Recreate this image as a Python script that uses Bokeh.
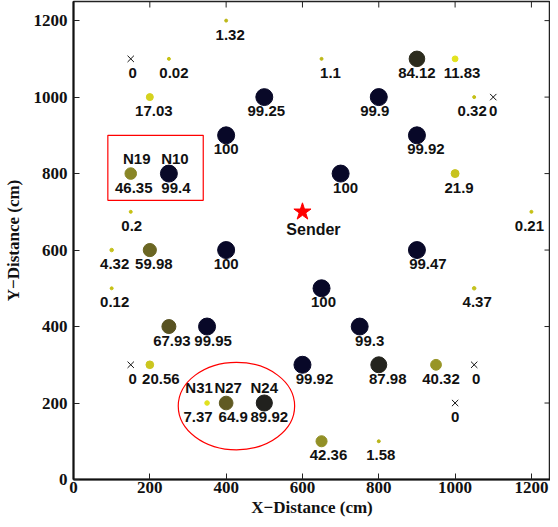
import numpy as np
from bokeh.plotting import figure
from bokeh.models import ColumnDataSource, Range1d, FixedTicker
from bokeh.core.properties import value
from bokeh.embed import file_html
from bokeh.resources import INLINE

# ---- data ----
node_x = [400, 150, 250, 650, 900, 1000, 200, 500, 800, 1050, 1100,
          400, 900, 150, 250, 700, 1000, 150, 1200, 100, 200, 400, 900,
          100, 650, 1050, 250, 350, 750, 150, 200, 600, 800, 950, 1050,
          350, 400, 500, 1000, 650, 800]
node_y = [1200, 1100, 1100, 1100, 1100, 1100, 1000, 1000, 1000, 1000, 1000,
          900, 900, 800, 800, 800, 800, 700, 700, 600, 600, 600, 600,
          500, 500, 500, 400, 400, 400, 300, 300, 300, 300, 300, 300,
          200, 200, 200, 200, 100, 100]
node_value = [1.32, 0, 0.02, 1.1, 84.12, 11.83, 17.03, 99.25, 99.9, 0.32, 0,
              100, 99.92, 46.35, 99.4, 100, 21.9, 0.2, 0.21, 4.32, 59.98, 100, 99.47,
              0.12, 100, 4.37, 67.93, 99.95, 99.3, 0, 20.56, 99.92, 87.98, 40.32, 0,
              7.37, 64.9, 89.92, 0, 42.36, 1.58]

named_x = [150, 250, 350, 400, 500]
named_y = [800, 800, 200, 200, 200]
named_label = ["N19", "N10", "N31", "N27", "N24"]

sender_x = [600]
sender_y = [700]
sender_label = ["Sender"]

box_left, box_right, box_bottom, box_top = [90], [340], [730], [900]
ell_x, ell_y, ell_w, ell_h = [427], [192], [305], [229]

x_ticks = [0, 200, 400, 600, 800, 1000, 1200]
y_ticks = [0, 200, 400, 600, 800, 1000, 1200]
axis_max = 1250

# ---- styling: horizontal label nudges in screen pixels ----
label_dx = [4, 2, 5, 9, 0, 7, 4, 2, -4, -2, 0,
            0, 9, 3, 7, 5, 4, 1, -2, 3, 4, 0, 11,
            3, 2, 3, 3, 6, 10, 2, 11, 12, 9, 5, 2,
            -9, 7, 5, 0, 7, 2]
named_dx = [6, 6, -8, 2, 0]

stop_v = [0, 3, 6, 12, 20, 45, 65, 85, 92, 98, 100]
stop_rgb = np.array([(200, 195, 20), (175, 170, 30), (225, 225, 30), (228, 228, 30),
                     (205, 200, 30), (140, 138, 40), (96, 90, 34), (42, 42, 30),
                     (30, 30, 30), (12, 12, 40), (8, 8, 40)], dtype=float)


def color_for(v):
    r = np.interp(v, stop_v, stop_rgb[:, 0])
    g = np.interp(v, stop_v, stop_rgb[:, 1])
    b = np.interp(v, stop_v, stop_rgb[:, 2])
    return "#%02x%02x%02x" % (int(r), int(g), int(b))


vals = np.array(node_value, dtype=float)
xs = np.array(node_x)
ys = np.array(node_y)
pos = vals > 0

circ = ColumnDataSource(dict(
    x=xs[pos], y=ys[pos],
    size=np.maximum(3.0, 1.7 * np.sqrt(vals[pos])),
    color=[color_for(v) for v in vals[pos]],
))
zero = ColumnDataSource(dict(x=xs[~pos], y=ys[~pos]))
labels = ColumnDataSource(dict(x=xs, y=ys, t=[f"{v:g}" for v in vals], dx=label_dx))
named = ColumnDataSource(dict(x=named_x, y=named_y, t=named_label, dx=named_dx))

p = figure(width=550, height=519, output_backend="svg", toolbar_location=None,
           x_range=Range1d(0, axis_max), y_range=Range1d(0, axis_max),
           min_border=0, min_border_left=65, min_border_right=0, min_border_top=1,
           min_border_bottom=40,
           x_axis_label="X\u2212Distance (cm)", y_axis_label="Y\u2212Distance (cm)")
p.grid.visible = False
p.outline_line_color = "#222222"
p.outline_line_width = 1.5
p.background_fill_color = "white"
p.border_fill_color = "white"

for ax, tk in ((p.xaxis[0], x_ticks), (p.yaxis[0], y_ticks)):
    ax.ticker = FixedTicker(ticks=tk)
    ax.major_tick_in = 6
    ax.major_tick_out = 0
    ax.minor_tick_line_color = None
    ax.axis_line_width = 2
    ax.axis_line_color = "#111111"
    ax.major_tick_line_color = "#222222"
    ax.major_label_text_font = "Liberation Serif"
    ax.major_label_text_font_style = "bold"
    ax.major_label_text_font_size = "17px"
    ax.major_label_text_color = "#111111"
    ax.axis_label_text_font = "Liberation Serif"
    ax.axis_label_text_font_style = "bold"
    ax.axis_label_text_font_size = "17px"
    ax.axis_label_text_color = "#111111"
p.xaxis[0].major_label_standoff = 2
p.yaxis[0].major_label_standoff = 6
p.xaxis[0].axis_label_standoff = 2
p.yaxis[0].axis_label_standoff = 8

# inward ticks on top and right edges (clipped to the frame)
p.scatter(x_ticks, [axis_max] * len(x_ticks), marker="dash", angle=np.pi / 2,
          size=12, line_color="#222222", line_width=1)
p.scatter([axis_max] * len(y_ticks), y_ticks, marker="dash",
          size=12, line_color="#222222", line_width=1)

# nodes
p.scatter("x", "y", size="size", fill_color="color", line_color="color", source=circ)
p.scatter("x", "y", marker="x", size=9, line_color="#111111", line_width=1, source=zero)
p.text("x", "y", text="t", source=labels, x_offset="dx", y_offset=9,
       text_align="center", text_baseline="top",
       text_font=value("Liberation Sans"), text_font_style="bold",
       text_font_size="15px", text_color="#111111")
p.text("x", "y", text="t", source=named, x_offset="dx", y_offset=-7,
       text_align="center", text_baseline="bottom",
       text_font=value("Liberation Sans"), text_font_style="bold",
       text_font_size="15px", text_color="#111111")

# sender
p.scatter(sender_x, sender_y, marker="star", size=18, fill_color="red", line_color="red")
p.text(sender_x, sender_y, text=sender_label, x_offset=11, y_offset=9,
       text_align="center", text_baseline="top",
       text_font=value("Liberation Sans"), text_font_style="bold",
       text_font_size="16px", text_color="#111111")

# highlight shapes
p.quad(left=box_left, right=box_right, bottom=box_bottom, top=box_top,
       fill_color=None, line_color="red", line_width=1.2)
p.ellipse(ell_x, ell_y, width=ell_w, height=ell_h, fill_color=None,
          line_color="red", line_width=1.2)

open("out.html", "w").write(file_html(p, INLINE))
